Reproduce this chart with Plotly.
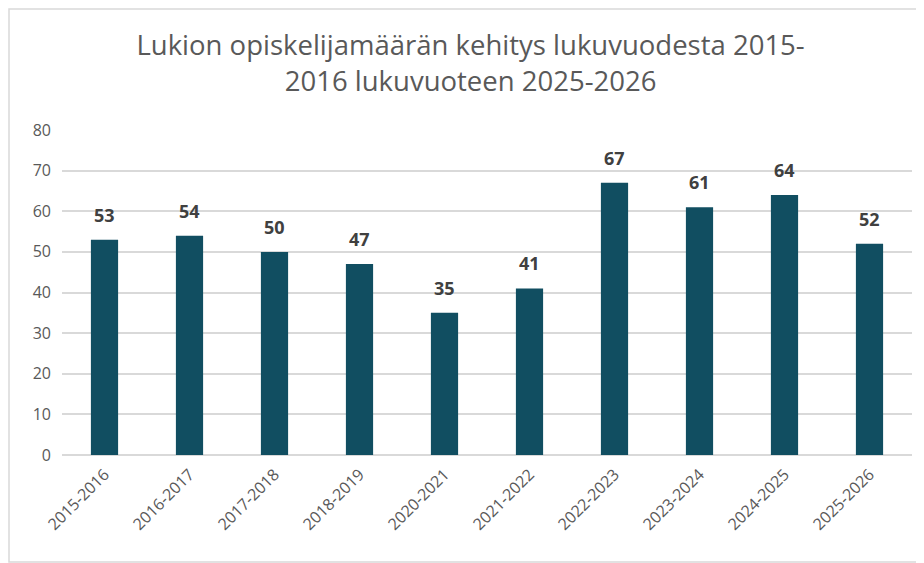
import plotly.graph_objects as go

categories = ["2015-2016", "2016-2017", "2017-2018", "2018-2019", "2020-2021",
              "2021-2022", "2022-2023", "2023-2024", "2024-2025", "2025-2026"]
values = [53, 54, 50, 47, 35, 41, 67, 61, 64, 52]
y_ticks = [0, 10, 20, 30, 40, 50, 60, 70, 80]

fig = go.Figure()
fig.add_trace(go.Bar(
    x=categories, y=values,
    marker=dict(color="#114E61", line=dict(width=0)),
))

for c, v in zip(categories, values):
    fig.add_annotation(x=c, y=v, text=str(v), showarrow=False,
                       yanchor="bottom", yshift=11,
                       font=dict(family="Open Sans", size=18, color="#404040", weight="bold"))

fig.update_layout(
    width=916, height=555,
    margin=dict(l=54, r=12, t=122, b=108),
    paper_bgcolor="white", plot_bgcolor="white",
    bargap=0.68,
    showlegend=False,
    title=dict(
        text="Lukion opiskelijamäärän kehitys lukuvuodesta 2015-<br>2016 lukuvuoteen 2025-2026",
        x=0.505, xanchor="center", yref="container", y=0.915, yanchor="top",
        font=dict(family="Open Sans", size=27.5, color="#595959"),
    ),
    xaxis=dict(
        tickangle=-45, showgrid=False, showline=False, ticks="",
        ticklabelstandoff=6,
        tickfont=dict(family="Open Sans", size=16, color="#595959"),
    ),
    yaxis=dict(
        range=[0, 80], tickvals=y_ticks, showgrid=True, gridcolor="#D9D9D9", gridwidth=1.5,
        zeroline=True, zerolinecolor="#D9D9D9", zerolinewidth=1.5,
        showline=False, ticks="", ticklabelstandoff=10,
        tickfont=dict(family="Open Sans", size=16, color="#595959"),
    ),
    shapes=[dict(type="rect", xref="paper", yref="paper",
                 x0=-53/850, x1=1+11/850, y0=-107/325, y1=1+121/325,
                 line=dict(color="#D9D9D9", width=1.5), fillcolor="rgba(0,0,0,0)", layer="below")],
)

fig.write_html("out.html")
